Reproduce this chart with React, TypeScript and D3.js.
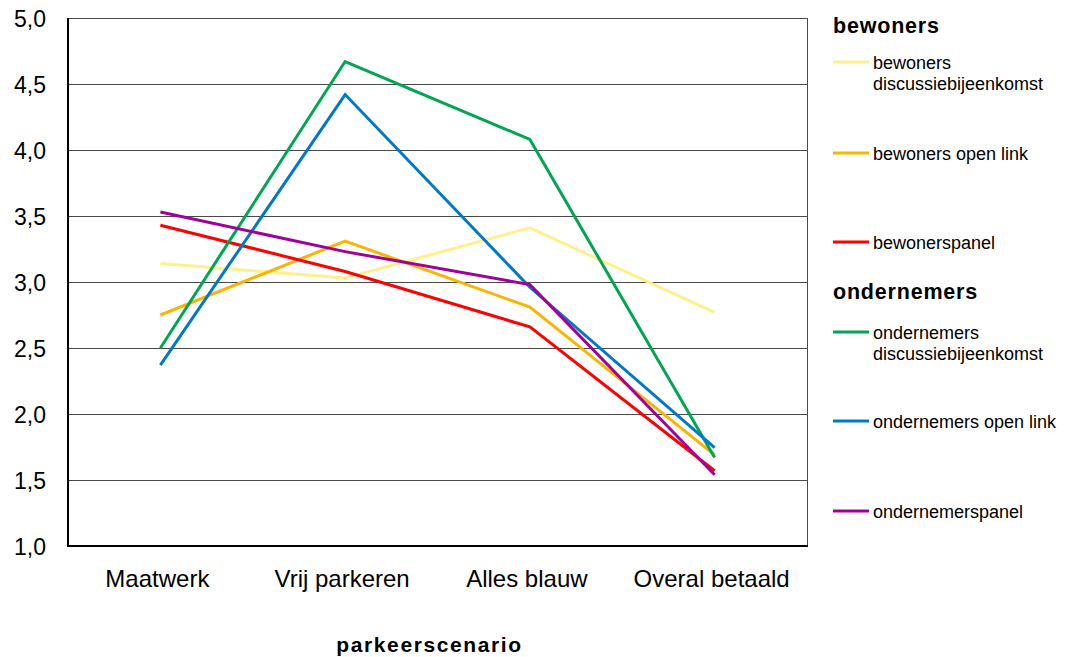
import React from "react";
import * as d3 from "d3";

const categories = ["Maatwerk", "Vrij parkeren", "Alles blauw", "Overal betaald"];
const yTicks = [1.0, 1.5, 2.0, 2.5, 3.0, 3.5, 4.0, 4.5, 5.0];

const bewonersDiscussie = [3.14, 3.03, 3.41, 2.77];
const bewonersOpenLink = [2.75, 3.31, 2.81, 1.69];
const bewonersPanel = [3.43, 3.08, 2.66, 1.57];
const ondernemersDiscussie = [2.5, 4.67, 4.08, 1.67];
const ondernemersOpenLink = [2.37, 4.42, 2.96, 1.745];
const ondernemersPanel = [3.53, 3.23, 2.98, 1.54];

const seriesNames = [
  "bewoners discussiebijeenkomst",
  "bewoners open link",
  "bewonerspanel",
  "ondernemers discussiebijeenkomst",
  "ondernemers open link",
  "ondernemerspanel",
];
const seriesValues = [
  bewonersDiscussie,
  bewonersOpenLink,
  bewonersPanel,
  ondernemersDiscussie,
  ondernemersOpenLink,
  ondernemersPanel,
];
const seriesColors = ["#FFF08C", "#FBB400", "#FF0000", "#00A650", "#0079C6", "#A2009A"];

const W = 1075;
const H = 657;
const plot = { left: 68, right: 807, top: 18, bottom: 546 };
const FONT = "Liberation Sans, Arial, Helvetica, sans-serif";

export default function App() {
  const x = d3
    .scaleBand<string>()
    .domain(categories)
    .range([plot.left, plot.right])
    .padding(0);
  const cx = (c: string) => (x(c) as number) + x.bandwidth() / 2;
  const y = d3.scaleLinear().domain([1, 5]).range([plot.bottom, plot.top]);
  const line = d3
    .line<number>()
    .x((_, i) => cx(categories[i]))
    .y((v) => y(v));

  // legend layout
  const legend = [
    { type: "title", text: "bewoners", y: 33 },
    { type: "item", idx: 0, lines: ["bewoners", "discussiebijeenkomst"], y: 62 },
    { type: "item", idx: 1, lines: ["bewoners open link"], y: 153 },
    { type: "item", idx: 2, lines: ["bewonerspanel"], y: 242 },
    { type: "title", text: "ondernemers", y: 299 },
    { type: "item", idx: 3, lines: ["ondernemers", "discussiebijeenkomst"], y: 332 },
    { type: "item", idx: 4, lines: ["ondernemers open link"], y: 421 },
    { type: "item", idx: 5, lines: ["ondernemerspanel"], y: 511 },
  ];

  return (
    <svg
      width={W}
      height={H}
      style={{ position: "absolute", left: 0, top: 0, background: "#fff" }}
      fontFamily={FONT}
    >
      <rect x={0} y={0} width={W} height={H} fill="#fff" />
      {/* gridlines */}
      {yTicks.map((t) => (
        <line
          key={"g" + t}
          x1={plot.left}
          x2={plot.right}
          y1={Math.round(y(t)) + 0.5}
          y2={Math.round(y(t)) + 0.5}
          stroke="#4a4a4a"
          strokeWidth={1}
        />
      ))}
      {/* right border */}
      <line
        x1={plot.right + 0.5}
        x2={plot.right + 0.5}
        y1={plot.top}
        y2={plot.bottom}
        stroke="#4a4a4a"
        strokeWidth={1}
      />
      {/* axes */}
      <line x1={plot.left} x2={plot.left} y1={plot.top} y2={plot.bottom + 1} stroke="#000" strokeWidth={2} />
      <line x1={plot.left - 1} x2={plot.right + 1} y1={plot.bottom} y2={plot.bottom} stroke="#000" strokeWidth={2} />
      {/* y tick labels */}
      {yTicks.map((t) => (
        <text
          key={"t" + t}
          x={46}
          y={y(t) + 9}
          textAnchor="end"
          fontSize={23}
          fill="#000"
        >
          {d3.format(".1f")(t).replace(".", ",")}
        </text>
      ))}
      {/* category labels */}
      {categories.map((c) => (
        <text key={c} x={cx(c) - 3} y={587} textAnchor="middle" fontSize={24} fill="#000">
          {c}
        </text>
      ))}
      <text
        x={(plot.left + plot.right) / 2 - 8}
        y={652}
        textAnchor="middle"
        fontSize={21}
        fontWeight="bold"
        letterSpacing={1.6}
        fill="#000"
      >
        parkeerscenario
      </text>
      {/* series */}
      {seriesValues.map((vals, i) => (
        <path
          key={seriesNames[i]}
          d={line(vals) as string}
          fill="none"
          stroke={seriesColors[i]}
          strokeWidth={3}
          strokeLinejoin="miter"
        />
      ))}
      {/* legend */}
      {legend.map((l, k) =>
        l.type === "title" ? (
          <text key={k} x={833} y={l.y} fontSize={21.5} fontWeight="bold" letterSpacing={0.8} fill="#000">
            {l.text}
          </text>
        ) : (
          <g key={k}>
            <line
              x1={833}
              x2={869}
              y1={l.y}
              y2={l.y}
              stroke={seriesColors[l.idx as number]}
              strokeWidth={3}
            />
            {(l.lines as string[]).map((s, j) => (
              <text key={j} x={873} y={l.y + 7 + j * 21} fontSize={18} fill="#000">
                {s}
              </text>
            ))}
          </g>
        )
      )}
    </svg>
  );
}
